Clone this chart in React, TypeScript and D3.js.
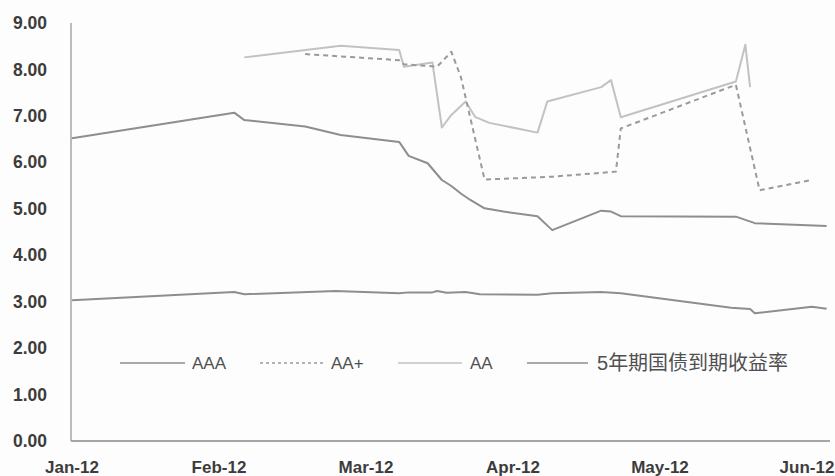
import React from "react";
import * as d3 from "d3";

// Month tick labels (one per month, evenly spaced)
const monthLabels = ["Jan-12", "Feb-12", "Mar-12", "Apr-12", "May-12", "Jun-12"];
const yTicks = [0, 1, 2, 3, 4, 5, 6, 7, 8, 9];

// Series: [date, yield %]
const aaa: [string, number][] = [
  ["2012-01-01", 6.52], ["2012-02-04", 7.07], ["2012-02-06", 6.91], ["2012-02-18", 6.77],
  ["2012-02-25", 6.59], ["2012-03-08", 6.44], ["2012-03-10", 6.14], ["2012-03-14", 5.98],
  ["2012-03-17", 5.62], ["2012-03-19", 5.49], ["2012-03-21", 5.33], ["2012-03-23", 5.19],
  ["2012-03-26", 5.01], ["2012-03-30", 4.94], ["2012-04-06", 4.84], ["2012-04-09", 4.54],
  ["2012-04-19", 4.96], ["2012-04-21", 4.94], ["2012-04-23", 4.84], ["2012-05-17", 4.83],
  ["2012-05-21", 4.69], ["2012-06-05", 4.63],
];

const aaPlus: [string, number][] = [
  ["2012-02-18", 8.33], ["2012-03-08", 8.20], ["2012-03-09", 8.11], ["2012-03-16", 8.06],
  ["2012-03-19", 8.38], ["2012-03-21", 7.84], ["2012-03-26", 5.63], ["2012-04-09", 5.69],
  ["2012-04-22", 5.80], ["2012-04-23", 6.73], ["2012-05-17", 7.67], ["2012-05-22", 5.40],
  ["2012-06-02", 5.62],
];

const aa: [string, number][] = [
  ["2012-02-06", 8.26], ["2012-02-25", 8.51], ["2012-03-08", 8.42], ["2012-03-09", 8.06],
  ["2012-03-15", 8.15], ["2012-03-17", 6.75], ["2012-03-19", 7.02], ["2012-03-22", 7.31],
  ["2012-03-24", 6.98], ["2012-03-27", 6.85], ["2012-04-06", 6.64], ["2012-04-08", 7.31],
  ["2012-04-19", 7.62], ["2012-04-21", 7.77], ["2012-04-23", 6.97], ["2012-05-17", 7.74],
  ["2012-05-19", 8.53], ["2012-05-20", 7.62],
];

const govt5y: [string, number][] = [
  ["2012-01-01", 3.03], ["2012-02-04", 3.21], ["2012-02-06", 3.16], ["2012-02-24", 3.23],
  ["2012-03-08", 3.18], ["2012-03-10", 3.20], ["2012-03-15", 3.20], ["2012-03-16", 3.23],
  ["2012-03-18", 3.19], ["2012-03-22", 3.21], ["2012-03-25", 3.16], ["2012-04-06", 3.15],
  ["2012-04-09", 3.18], ["2012-04-19", 3.21], ["2012-04-23", 3.18], ["2012-05-16", 2.87],
  ["2012-05-20", 2.84], ["2012-05-21", 2.75], ["2012-06-02", 2.89], ["2012-06-05", 2.85],
];

const W = 835;
const H = 476;
const left = 72;
const right = 830;
const top = 23;
const bottom = 441;

// Each month occupies an equal slot on the axis
function monthPos(iso: string): number {
  const [y, m, d] = iso.split("-").map(Number);
  const days = new Date(y, m, 0).getDate();
  return m - 1 + (d - 1) / days;
}

const monthWidth = 147;
const x = d3.scaleLinear().domain([0, (right - left) / monthWidth]).range([left, right]);
const y = d3.scaleLinear().domain([0, 9]).range([bottom, top]);

const line = d3
  .line<[string, number]>()
  .x((p) => x(monthPos(p[0])))
  .y((p) => y(p[1]));

const dark = "#8e8e8e";
const light = "#c2c2c2";
const dashed = "#9a9a9a";
const latin = "'Liberation Sans', Arial, sans-serif";
const cjk = "'Noto Sans CJK SC', sans-serif";

export default function App() {
  const legendY = 363;
  return (
    <svg
      width={W}
      height={H}
      style={{ position: "absolute", left: 0, top: 0 }}
      xmlns="http://www.w3.org/2000/svg"
    >
      <rect width={W} height={H} fill="#fdfdfd" />

      {/* axes */}
      <line x1={left - 1} x2={left - 1} y1={top} y2={bottom} stroke="#a5a5a5" strokeWidth={1.5} />
      <line x1={left - 1} x2={right} y1={bottom} y2={bottom} stroke="#a5a5a5" strokeWidth={2} />

      {yTicks.map((t) => (
        <text
          key={t}
          x={47}
          y={y(t)}
          dy="0.35em"
          textAnchor="end"
          fontFamily={latin}
          fontWeight="bold"
          fontSize={17.5}
          fill="#3c3c3c"
        >
          {t.toFixed(2)}
        </text>
      ))}

      {monthLabels.map((m, i) => (
        <text
          key={m}
          x={x(i)}
          y={473}
          textAnchor="middle"
          fontFamily={latin}
          fontWeight="bold"
          fontSize={17}
          fill="#3c3c3c"
        >
          {m}
        </text>
      ))}

      {/* series */}
      <path d={line(govt5y) || ""} fill="none" stroke={dark} strokeWidth={2} strokeLinejoin="round" />
      <path d={line(aaa) || ""} fill="none" stroke={dark} strokeWidth={2} strokeLinejoin="round" />
      <path d={line(aa) || ""} fill="none" stroke={light} strokeWidth={2} strokeLinejoin="round" />
      <path
        d={line(aaPlus) || ""}
        fill="none"
        stroke={dashed}
        strokeWidth={2}
        strokeDasharray="5,4"
        strokeLinejoin="round"
      />

      {/* legend */}
      <g fontFamily={latin} fontSize={17} fill="#505050">
        <line x1={120} x2={185} y1={legendY} y2={legendY} stroke={dark} strokeWidth={1.5} />
        <text x={192} y={legendY} dy="0.35em">AAA</text>

        <line x1={260} x2={323} y1={legendY} y2={legendY} stroke={dashed} strokeWidth={1.5} strokeDasharray="3,3" />
        <text x={331} y={legendY} dy="0.35em">AA+</text>

        <line x1={398} x2={462} y1={legendY} y2={legendY} stroke={light} strokeWidth={1.5} />
        <text x={470} y={legendY} dy="0.35em">AA</text>

        <line x1={527} x2={588} y1={legendY} y2={legendY} stroke={dark} strokeWidth={1.5} />
        <text x={597} y={legendY} dy="0.35em" fontSize={20}>
          5<tspan fontFamily={cjk}>年期国债到期收益率</tspan>
        </text>
      </g>
    </svg>
  );
}
